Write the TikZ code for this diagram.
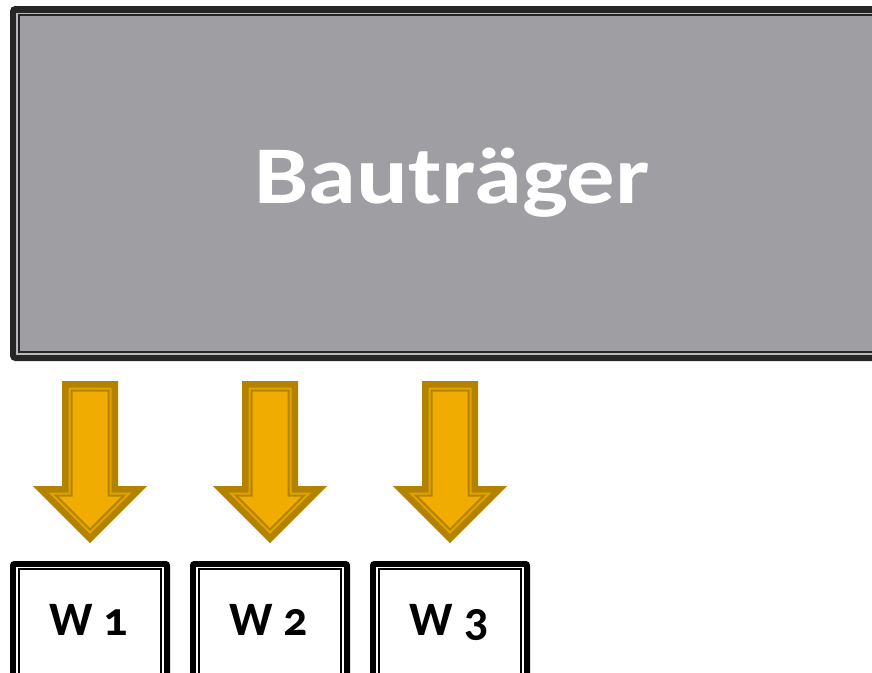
\documentclass[tikz,border=0pt]{standalone}
\usepackage{fontspec}
\setmainfont{Carlito}[Numbers=OldStyle]
\newfontfamily\mybigfont{Carlito}[FakeStretch=1.18]
\definecolor{boxgray}{HTML}{9F9EA3}
\definecolor{darkline}{HTML}{262626}
\definecolor{gapgray}{HTML}{B9B9BD}
\definecolor{arrfill}{HTML}{F0AC00}
\definecolor{arrdark}{HTML}{B38300}
\definecolor{arrband}{HTML}{E2A200}
\newcommand\myarrowpoly[3]{%
  \pgfmathsetmacro\myqL{#1-28+#2}%
  \pgfmathsetmacro\myqR{#1+28-#2}%
  \pgfmathsetmacro\myqT{381+#2}%
  \pgfmathsetmacro\myqB{486+#2}%
  \pgfmathsetmacro\myqHL{#1-57+#2+1.4142*#2}%
  \pgfmathsetmacro\myqHR{#1+57-#2-1.4142*#2}%
  \pgfmathsetmacro\myqTip{543-1.4142*#2}%
  \path[#3] (\myqL,\myqT) -- (\myqR,\myqT) -- (\myqR,\myqB) -- (\myqHR,\myqB)
    -- (#1,\myqTip) -- (\myqHL,\myqB) -- (\myqL,\myqB) -- cycle;}
\newcommand\myblockarrow[1]{%
  \myarrowpoly{#1}{0}{fill=arrdark}%
  \myarrowpoly{#1}{6.5}{fill=arrband}%
  \myarrowpoly{#1}{9.5}{fill=arrfill,draw=arrdark,line width=2}}
\newcommand\mywbox[1]{%
  \fill[black,rounded corners=4] (#1-80,561) rectangle (#1+80,700);
  \fill[white] (#1-74,566.5) rectangle (#1+74,700);
  \draw[black,line width=2] (#1-71,569) rectangle (#1+71,700);}
\tikzset{
  bigtext/.style={text=white,font=\mybigfont\fontsize{82}{86}\selectfont\bfseries,inner sep=0,anchor=base},
  wtext/.style={text=black,font=\fontsize{48}{50}\selectfont\bfseries,inner sep=0,anchor=base}
}
\begin{document}
\begin{tikzpicture}[x=1pt,y=-1pt]
\useasboundingbox (0,0) rectangle (872,672);
\clip (0,0) rectangle (872,672);
% big gray box
\fill[darkline,rounded corners=5] (10,6) rectangle (910,361);
\fill[gapgray] (16,12.5) rectangle (904,355);
\fill[darkline] (18,14) rectangle (902,353);
\fill[boxgray] (20,16) rectangle (900,351);
\node[bigtext] (bt) at (452,203) {Bauträger};
% arrows
\myblockarrow{90}
\myblockarrow{270}
\myblockarrow{450}
% W boxes
\mywbox{90}
\mywbox{270}
\mywbox{450}
\node[wtext] (w1) at (89,635) {W 1};
\node[wtext] (w2) at (269,635) {W 2};
\node[wtext] (w3) at (449,635) {W 3};
\end{tikzpicture}
\end{document}
